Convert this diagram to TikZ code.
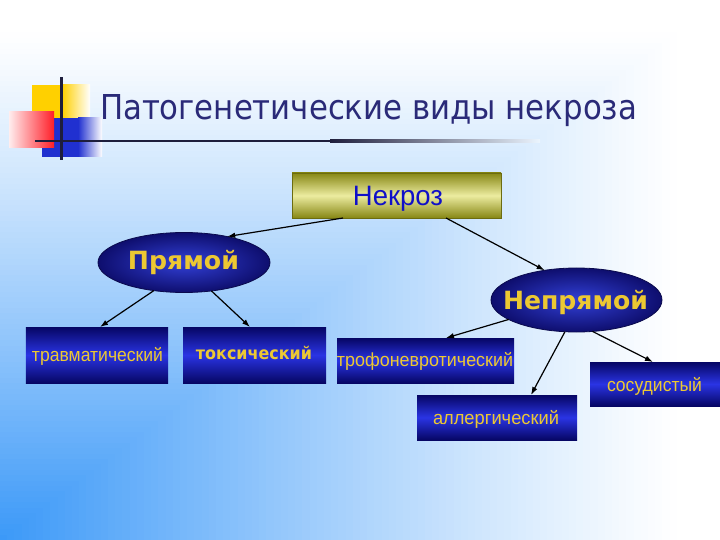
\documentclass[tikz,border=0pt]{standalone}
\usepackage{fontspec}
\setmainfont{Liberation Sans}
\newfontfamily\dejavu{DejaVu Sans}
\usetikzlibrary{shapes.geometric,arrows.meta,calc}
\definecolor{bgblue}{RGB}{58,152,248}
\definecolor{titlecol}{RGB}{42,42,120}
\definecolor{boxdark}{RGB}{6,6,100}
\definecolor{boxmid}{RGB}{42,52,228}
\definecolor{elldark}{RGB}{14,14,110}
\definecolor{ellmid}{RGB}{50,64,215}
\definecolor{olivedark}{RGB}{135,135,20}
\definecolor{olivelight}{RGB}{236,236,160}
\definecolor{labgold}{RGB}{236,200,50}
\definecolor{nekblue}{RGB}{16,16,200}
\definecolor{decyellow}{RGB}{255,208,0}
\definecolor{decred}{RGB}{255,30,40}
\definecolor{decblue}{RGB}{32,48,208}
\definecolor{decline}{RGB}{30,30,60}
% fit text to a width and an x-height / cap height
\newcommand{\fitx}[3]{\resizebox{#1}{#2}{\smash{#3}\vphantom{x}}}
\newcommand{\fitc}[3]{\resizebox{#1}{#2}{\smash{#3}\vphantom{H}}}
\tikzset{
  bluebox/.style={rectangle, inner sep=0pt, outer sep=0pt, top color=boxdark, bottom color=boxdark, middle color=boxmid},
  blueell/.style={ellipse, inner sep=0pt, outer sep=0pt, inner color=ellmid, outer color=elldark, draw=elldark!70!black, line width=0.8bp},
  nekbox/.style={rectangle, inner sep=0pt, outer sep=0pt, top color=olivedark, bottom color=olivedark, middle color=olivelight, draw=olivedark!80!black, line width=0.6bp},
  lbl/.style={inner sep=0pt, outer sep=0pt, anchor=base},
  conn/.style={draw=black, line width=1.2bp, -{Latex[length=8bp,width=5.5bp]}}
}
\begin{document}
\begin{tikzpicture}[x=1bp,y=-1bp]
\useasboundingbox (0,0) rectangle (720,540);
% background: rectangular gradient from the lower left corner
\fill[white] (0,0) rectangle (720,540);
\foreach \i in {100,99,...,1}{
  \pgfmathsetmacro{\tt}{\i/100}
  \pgfmathsetmacro{\ff}{100*(max(0,1-\tt/0.95))^1.15}
  \fill[bgblue!\ff!white] (0,540) rectangle ({720*\tt},{540-540*\tt});
}
% corner decoration
\fill[decyellow] (32,85) rectangle (62,118);
\shade[left color=decyellow, right color=white] (62,85) rectangle (90,118);
\fill[decblue] (42,118) rectangle (78,157);
\shade[left color=decblue, right color=white] (78,118) rectangle (102,157);
\shade[left color=decred!8!white, right color=decred] (9,112) rectangle (54,148);
\fill[decline] (35,140) rectangle (330,142.2);
\shade[left color=decline, right color=white!90!bgblue] (330,140) rectangle (540,142.2);
\fill[decline] (59.8,77) rectangle (62.6,160);
% title
\node[lbl, anchor=base west, text=titlecol] (title) at (100,120) {\dejavu\fitc{537bp}{25bp}{Патогенетические виды некроза}};
% nodes
\node[nekbox, minimum width=209bp, minimum height=45bp] (nek) at (396.5,195.5) {};
\node[blueell, minimum width=172bp, minimum height=60bp] (pr) at (184,262.5) {};
\node[blueell, minimum width=171bp, minimum height=64bp] (npr) at (576.5,300) {};
\node[bluebox, minimum width=142bp, minimum height=56bp] (trav) at (97,355) {};
\node[bluebox, minimum width=143bp, minimum height=56bp] (tox) at (254.5,355) {};
\node[bluebox, minimum width=177bp, minimum height=45bp] (trof) at (425.5,360.5) {};
\node[bluebox, minimum width=160bp, minimum height=45bp] (allerg) at (497,417.5) {};
\node[bluebox, minimum width=130bp, minimum height=44bp] (sos) at (655,384) {};
% labels
\node[lbl, text=nekblue] (nekt) at (398,206) {\fitc{90bp}{19.3bp}{Некроз}};
\node[lbl, text=labgold] (prt) at (183.5,270) {\dejavu\bfseries\fitc{111bp}{18.3bp}{Прямой}};
\node[lbl, text=labgold] (nprt) at (575.5,310) {\dejavu\bfseries\fitc{145bp}{18.3bp}{Непрямой}};
\node[lbl, text=labgold] (travt) at (97.5,361.7) {\fitx{131bp}{10bp}{травматический}};
\node[lbl, text=labgold] (toxt) at (254,359.5) {\dejavu\bfseries\fitx{116bp}{9.5bp}{токсический}};
\node[lbl, text=labgold] (troft) at (425,366.7) {\fitx{176bp}{10bp}{трофоневротический}};
\node[lbl, text=labgold] (allergt) at (496,424) {\fitx{126bp}{10bp}{аллергический}};
\node[lbl, text=labgold] (sost) at (654.5,391.7) {\fitx{95bp}{10bp}{сосудистый}};
% connectors
\draw[conn] ([xshift=-53.5bp]nek.south) -- (pr.31);
\draw[conn] ([xshift=49.5bp]nek.south) -- (npr.137);
\draw[conn] (pr.-137) -- ([xshift=3bp]trav.north);
\draw[conn] (pr.-46) -- ([xshift=-4.5bp]tox.north);
\draw[conn] (npr.-164) -- ([xshift=20.5bp]trof.north);
\draw[conn] (npr.-110) -- ([xshift=34bp]allerg.north);
\draw[conn] (npr.-63) -- ([xshift=-2bp]sos.north);
\end{tikzpicture}
\end{document}
